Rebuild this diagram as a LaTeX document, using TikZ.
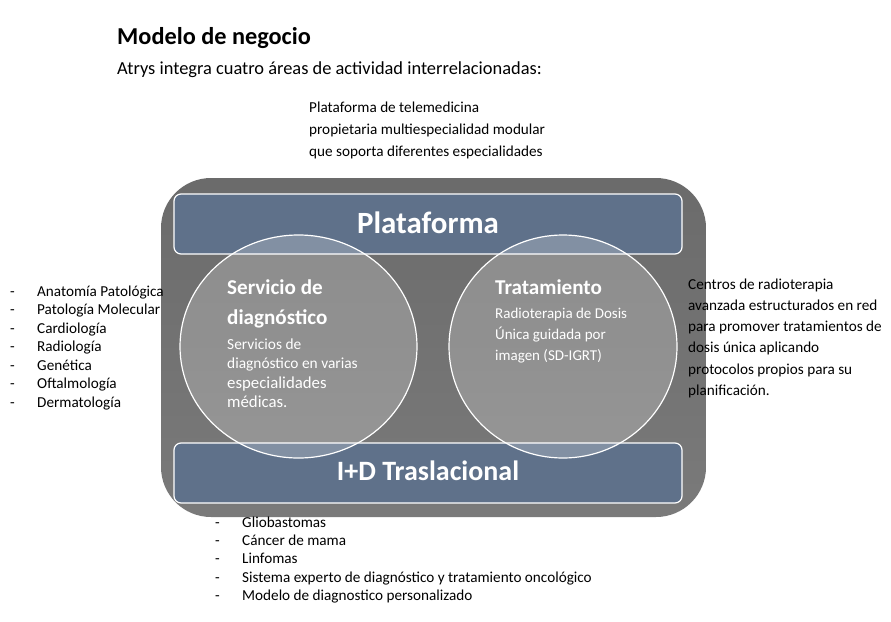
\documentclass[tikz,border=0pt]{standalone}
\usepackage{fontspec}
\setmainfont{Carlito}
\usetikzlibrary{shapes.geometric}
\definecolor{boxgray}{HTML}{6B6B6B}
\definecolor{boxlight}{HTML}{7A7A7A}
\definecolor{bargray}{HTML}{5F718A}
\tikzset{
  txt/.style={anchor=base west, inner sep=0pt, font=\fontsize{15.2}{18}\selectfont},
  wtxt/.style={txt, text=white},
  head/.style={anchor=base west, inner sep=0pt, text=white, font=\fontsize{21.1}{25}\selectfont\bfseries},
  bar/.style={draw=white, line width=1.2pt, fill=bargray, rounded corners=7pt, minimum width=508pt, minimum height=60pt},
  bartxt/.style={anchor=base, inner sep=0pt, text=white, font=\bfseries},
  area/.style={ellipse, draw=white, line width=1.2pt, fill=white, fill opacity=.22, inner sep=0pt, minimum height=223pt},
}
\newcommand{\dashitem}[1]{\makebox[27pt][l]{-}#1}
\begin{document}
\begin{tikzpicture}[x=1pt,y=-1pt]
\useasboundingbox (0,0) rectangle (891,621);
% titulo
\node[txt, font=\fontsize{24.3}{29}\selectfont\bfseries] (titulo) at (117,44) {Modelo de negocio};
\node[txt, font=\fontsize{18.4}{22}\selectfont] (sub) at (117,74) {Atrys integra cuatro áreas de actividad interrelacionadas:};
\node[txt] (pd1) at (309,112) {Plataforma de telemedicina};
\node[txt] (pd2) at (309,134) {propietaria multiespecialidad modular};
\node[txt] (pd3) at (309,156) {que soporta diferentes especialidades};
% marco
\node[rounded corners=50pt, top color=boxgray, bottom color=boxlight, minimum width=545pt, minimum height=339pt, inner sep=0pt] (marco) at (433.5,347.5) {};
\node[bar] (plat) at (428,224) {};
\node[bar] (id) at (428,473) {};
\node[bartxt, font=\fontsize{30.9}{37}\selectfont\bfseries] (platt) at (428,233) {Plataforma};
\node[bartxt, font=\fontsize{28}{33}\selectfont\bfseries] (idt) at (428,480) {I+D Traslacional};
% areas
\node[area, minimum width=237pt] (diag) at (298.5,346.5) {};
\node[area, minimum width=228pt] (trat) at (563,346.5) {};
\node[head] (diag1) at (227,294) {Servicio de};
\node[head] (diag2) at (227,324) {diagnóstico};
\node[wtxt, font=\fontsize{15.4}{18}\selectfont] (dd1) at (227,349) {Servicios de};
\node[wtxt, font=\fontsize{15.4}{18}\selectfont] (dd2) at (227,368) {diagnóstico en varias};
\node[wtxt, font=\fontsize{16.8}{20}\selectfont] (dd3) at (227,388) {especialidades};
\node[wtxt, font=\fontsize{16.8}{20}\selectfont] (dd4) at (227,407) {médicas.};
\node[head] (trat1) at (495,294) {Tratamiento};
\node[wtxt, font=\fontsize{15}{18}\selectfont] (td1) at (495,318) {Radioterapia de Dosis};
\node[wtxt, font=\fontsize{15}{18}\selectfont] (td2) at (495,339) {Única guidada por};
\node[wtxt, font=\fontsize{15}{18}\selectfont] (td3) at (495,360) {imagen (SD-IGRT)};
% derecha
\node[txt] (r1) at (688,289) {Centros de radioterapia};
\node[txt] (r2) at (688,310) {avanzada estructurados en red};
\node[txt] (r3) at (688,331) {para promover tratamientos de};
\node[txt] (r4) at (688,352) {dosis única aplicando};
\node[txt] (r5) at (688,374) {protocolos propios para su};
\node[txt] (r6) at (688,395) {planificación.};
% izquierda
\node[txt] (l1) at (10,296) {\dashitem{Anatomía Patológica}};
\node[txt] (l2) at (10,314.5) {\dashitem{Patología Molecular}};
\node[txt] (l3) at (10,333) {\dashitem{Cardiología}};
\node[txt] (l4) at (10,351.5) {\dashitem{Radiología}};
\node[txt] (l5) at (10,370) {\dashitem{Genética}};
\node[txt] (l6) at (10,388.5) {\dashitem{Oftalmología}};
\node[txt] (l7) at (10,407) {\dashitem{Dermatología}};
% abajo
\node[txt] (b1) at (215,527) {\dashitem{Gliobastomas}};
\node[txt] (b2) at (215,545) {\dashitem{Cáncer de mama}};
\node[txt] (b3) at (215,563.5) {\dashitem{Linfomas}};
\node[txt] (b4) at (215,582) {\dashitem{Sistema experto de diagnóstico y tratamiento oncológico}};
\node[txt] (b5) at (215,600.5) {\dashitem{Modelo de diagnostico personalizado}};
\end{tikzpicture}
\end{document}
